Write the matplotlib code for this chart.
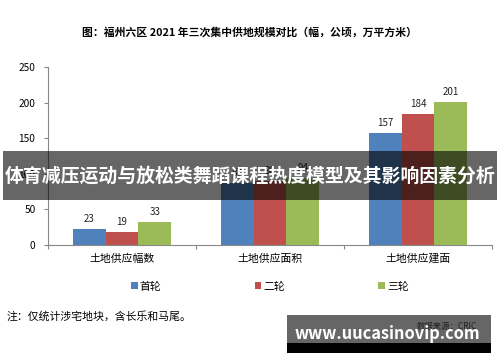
import numpy as np
import matplotlib.pyplot as plt
from matplotlib.patches import Rectangle

plt.rcParams['font.family'] = ['Noto Sans CJK SC', 'DejaVu Sans']

categories = ['土地供应幅数', '土地供应面积', '土地供应建面']
series_names = ['首轮', '二轮', '三轮']
first = [23, 87, 157]
second = [19, 90, 184]
third = [33, 94, 201]
colors = ['#4F81BD', '#C0504D', '#9BBB59']

fig = plt.figure(figsize=(5, 3.62), dpi=100)
ax = fig.add_axes([0.096, 0.323, 0.888, 0.492])

x = np.arange(len(categories))
w = 0.222
for i, (vals, name, c) in enumerate(zip([first, second, third], series_names, colors)):
    pos = x + (i - 1) * w
    ax.bar(pos, vals, w, color=c, label=name, zorder=2)
    for p, v in zip(pos, vals):
        ax.text(p, v + 7, str(v), ha='center', va='bottom', fontsize=7, color='#222222')

ax.set_xlim(-0.5, 2.5)
ax.set_ylim(0, 250)
ax.set_yticks([0, 50, 100, 150, 200, 250])
ax.set_xticks([-0.5, 0.5, 1.5, 2.5], minor=False)
ax.set_xticklabels([])
ax.set_xticks(x, minor=True)
ax.set_xticklabels(categories, minor=True, fontsize=7.8)
ax.tick_params(axis='x', which='minor', length=0, pad=6)
ax.tick_params(axis='x', which='major', length=3, color='#888888')
ax.tick_params(axis='y', length=3, color='#888888', labelsize=7.3, pad=6)
for s in ['top', 'right']:
    ax.spines[s].set_visible(False)
for s in ['left', 'bottom']:
    ax.spines[s].set_color('#888888')
    ax.spines[s].set_linewidth(0.8)

ax.legend(loc='upper center', bbox_to_anchor=(0.5, -0.15), ncol=3, frameon=False,
          fontsize=7.8, handlelength=0.6, handleheight=0.6, handletextpad=0.2,
          columnspacing=8.6)

fig.text(0.5, 0.91, '图：福州六区 2021 年三次集中供地规模对比（幅，公顷，万平方米）',
         ha='center', va='center', fontsize=7.8, fontweight='bold')
fig.text(0.014, 0.127, '注：仅统计涉宅地块，含长乐和马尾。', ha='left', va='center', fontsize=7.8)

# overlay band
fig.patches.append(Rectangle((0.006, 0.448), 0.988, 0.135, transform=fig.transFigure,
                             facecolor='black', alpha=0.6, zorder=10))
fig.text(0.5, 0.513, '体育减压运动与放松类舞蹈课程热度模型及其影响因素分析', ha='center', va='center',
         fontsize=13.6, fontweight='bold', color='white', zorder=11)

# watermark box
fig.patches.append(Rectangle((0.574, 0.052), 0.408, 0.078, transform=fig.transFigure,
                             facecolor='#666666', zorder=10))
fig.patches.append(Rectangle((0.574, 0.025), 0.408, 0.028, transform=fig.transFigure,
                             facecolor='black', zorder=10))
fig.text(0.955, 0.097, '数据来源：CRIC', ha='right', va='center', fontsize=6, color='#222222', zorder=11)
fig.text(0.775, 0.078, 'www.uucasinovip.com', ha='center', va='center', fontsize=11.8,
         fontweight='bold', color='white', zorder=12)

fig.savefig('out.png', dpi=100)
